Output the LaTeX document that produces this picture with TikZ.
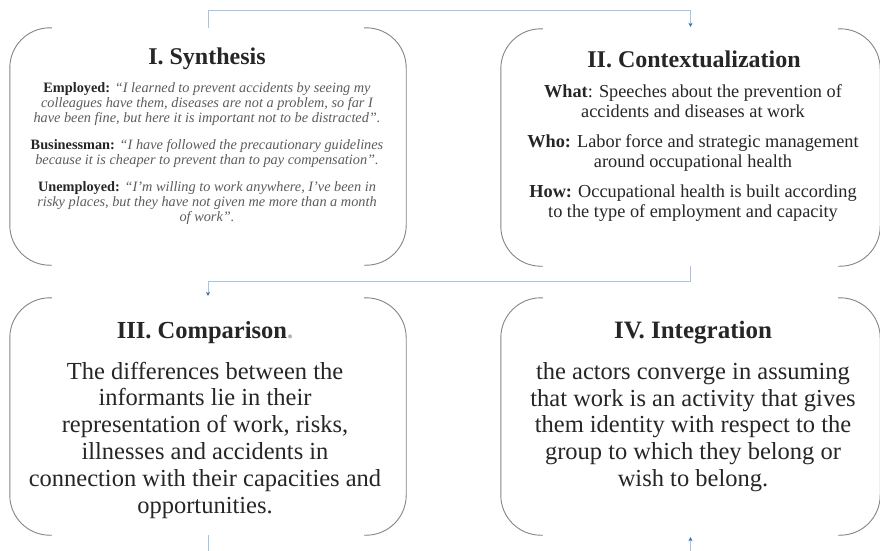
\documentclass[tikz,border=0pt]{standalone}
\usepackage{fontspec}
\setmainfont{Liberation Serif}
\usetikzlibrary{arrows.meta}
\definecolor{txt}{HTML}{262626}
\definecolor{quotec}{HTML}{5C5C5C}
\definecolor{framec}{HTML}{80868C}
\definecolor{linkc}{HTML}{A8C4E4}
\definecolor{tipc}{HTML}{2E6FB7}
\begin{document}
\begin{tikzpicture}[x=1pt,y=-1pt,
  panel/.style={draw=none,inner sep=0pt,minimum width=#1,minimum height=237pt},
  bracket/.style={draw=framec,line width=0.9pt,rounded corners=40pt},
  title/.style={font=\fontsize{#1}{26}\selectfont\bfseries,text=txt,inner sep=0pt},
  smallbody/.style={font=\fontsize{14.3}{15}\selectfont,text=txt,align=center,inner sep=0pt},
  midbody/.style={font=\fontsize{18.3}{20.5}\selectfont,text=txt,align=center,inner sep=0pt},
  bigbody/.style={font=\fontsize{24.5}{26.8}\selectfont,text=txt,align=center,inner sep=0pt},
  link/.style={draw=linkc,line width=0.9pt},
  linkarrow/.style={link,-{Stealth[length=4pt,width=4pt,color=tipc]}}
]
\useasboundingbox (0,0) rectangle (880,550);
\fill[white] (0,0) rectangle (880,550);

\node[panel=396pt] (s1) at (208,146.5) {};
\node[panel=379pt] (s2) at (690.5,147.5) {};
\node[panel=396pt] (s3) at (208,416.5) {};
\node[panel=379pt] (s4) at (690.5,416.5) {};

\foreach \n in {s1,s2,s3,s4}{
  \draw[bracket] ([xshift=42pt]\n.north west) -- (\n.north west) -- (\n.south west) -- ([xshift=42pt]\n.south west);
  \draw[bracket] ([xshift=-42pt]\n.north east) -- (\n.north east) -- (\n.south east) -- ([xshift=-42pt]\n.south east);
}

\node[title=24] (t1) at (207,59) {I. Synthesis};
\node[title=24] (t2) at (694,59) {II. Contextualization};
\node[title=24.5] (t3) at (205,333) {III. Comparison\textcolor{gray!60}{.}};
\node[title=25] (t4) at (693,333) {IV. Integration};

\node[smallbody] (b1) at (207,154) {%
\textbf{Employed:} \textcolor{quotec}{\itshape “I learned to prevent accidents by seeing my}\\
\textcolor{quotec}{\itshape colleagues have them, diseases are not a problem, so far I}\\
\textcolor{quotec}{\itshape have been fine, but here it is important not to be distracted”.}\\[12pt]
\textbf{Businessman:} \textcolor{quotec}{\itshape “I have followed the precautionary guidelines}\\
\textcolor{quotec}{\itshape because it is cheaper to prevent than to pay compensation”.}\\[12pt]
\textbf{Unemployed:} \textcolor{quotec}{\itshape “I'm willing to work anywhere, I've been in}\\
\textcolor{quotec}{\itshape risky places, but they have not given me more than a month}\\
\textcolor{quotec}{\itshape of work”.}};

\node[midbody] (b2) at (693,153) {%
\textbf{What}: Speeches about the prevention of\\
accidents and diseases at work\\[9pt]
\textbf{Who:} Labor force and strategic management\\
around occupational health\\[9pt]
\textbf{How:} Occupational health is built according\\
to the type of employment and capacity};

\node[bigbody] (b3) at (205,440) {%
The differences between the\\
informants lie in their\\
representation of work, risks,\\
illnesses and accidents in\\
connection with their capacities and\\
opportunities.};

\node[bigbody] (b4) at (693,427) {%
the actors converge in assuming\\
that work is an activity that gives\\
them identity with respect to the\\
group to which they belong or\\
wish to belong.};

\begin{scope}
\clip (0,0) rectangle (880,550);
\draw[linkarrow,shorten >=2pt] (s1.north) -- ++(0,-17) -| (s2.north);
\draw[linkarrow,shorten >=2pt] (s2.south) -- ++(0,15) -| (s3.north);
\draw[linkarrow,shorten >=2pt] (s3.south) -- ++(0,25) -| (s4.south);
\end{scope}
\end{tikzpicture}
\end{document}
